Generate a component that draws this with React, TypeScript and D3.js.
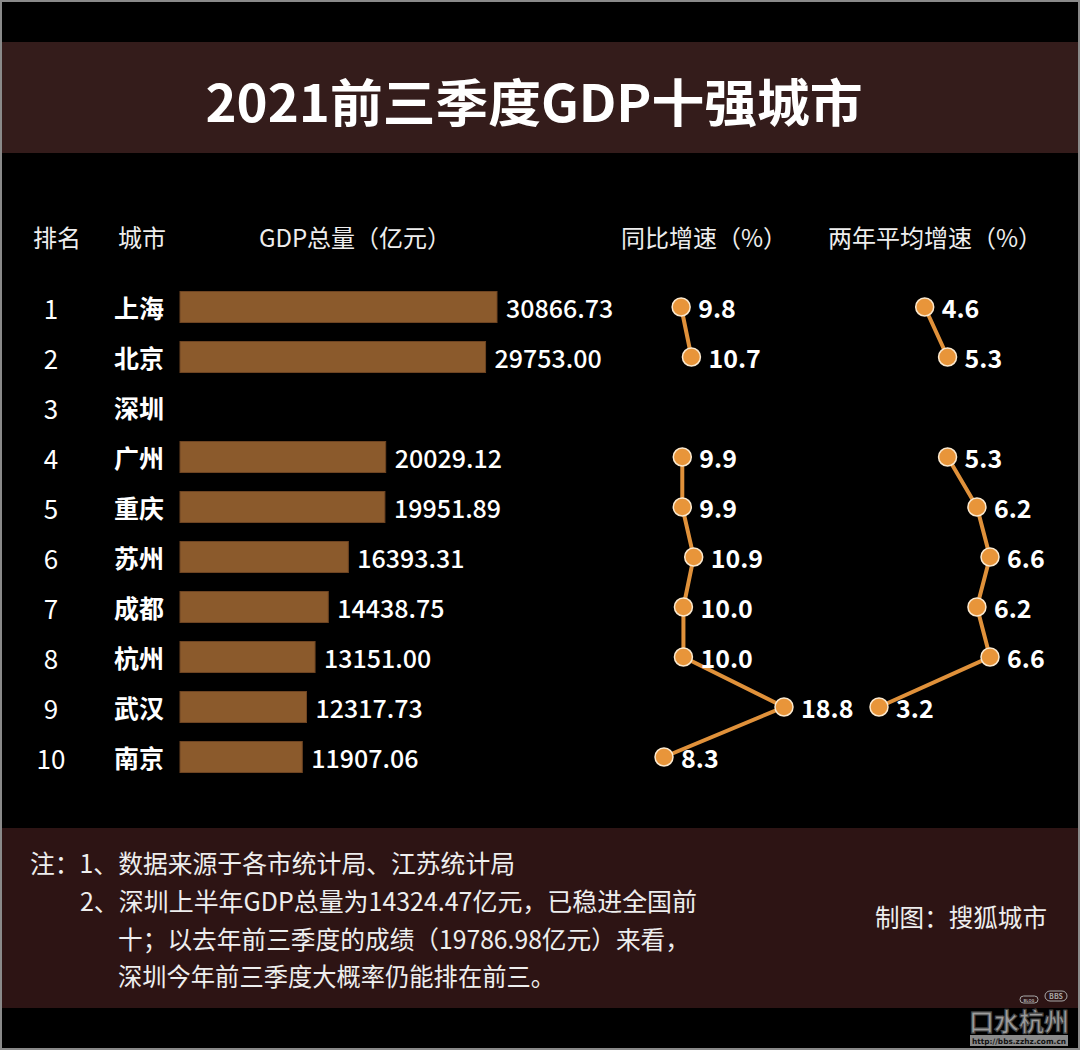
import React from 'react';
import * as d3 from 'd3';

const W = 1080;
const H = 1050;

const TITLE = '2021前三季度GDP十强城市';
const HEADERS = ['排名', '城市', 'GDP总量（亿元）', '同比增速（%）', '两年平均增速（%）'];
const ranks = [1, 2, 3, 4, 5, 6, 7, 8, 9, 10];
const cities = ['上海', '北京', '深圳', '广州', '重庆', '苏州', '成都', '杭州', '武汉', '南京'];
const gdp: (number | null)[] = [30866.73, 29753.0, null, 20029.12, 19951.89, 16393.31, 14438.75, 13151.0, 12317.73, 11907.06];
const yoy: (number | null)[] = [9.8, 10.7, null, 9.9, 9.9, 10.9, 10.0, 10.0, 18.8, 8.3];
const twoYear: (number | null)[] = [4.6, 5.3, null, 5.3, 6.2, 6.6, 6.2, 6.6, 3.2, null];
const notes = [
  '注：1、数据来源于各市统计局、江苏统计局',
  '2、深圳上半年GDP总量为14324.47亿元，已稳进全国前',
  '十；以去年前三季度的成绩（19786.98亿元）来看，',
  '深圳今年前三季度大概率仍能排在前三。',
];
const credit = '制图：搜狐城市';

const FONT = '"Noto Sans CJK SC", "Noto Sans", sans-serif';
const ORANGE = '#e8953a';
const LINE = '#e0913a';

export default function App() {
  const y = d3.scalePoint<string>().domain(cities).range([307, 757]);
  const xGdp = d3.scaleLinear().domain([0, 30866.73]).range([180, 497]);
  const xYoy = d3.scaleLinear().domain([8.3, 18.8]).range([664, 784]);
  const xTwo = d3.scaleLinear().domain([3.2, 6.6]).range([879, 990]);

  const idx = cities.map((_, i) => i);
  const lineYoy = d3
    .line<number>()
    .defined((i) => yoy[i] != null)
    .x((i) => xYoy(yoy[i] as number))
    .y((i) => y(cities[i]) as number);
  const lineTwo = d3
    .line<number>()
    .defined((i) => twoYear[i] != null)
    .x((i) => xTwo(twoYear[i] as number))
    .y((i) => y(cities[i]) as number);

  const headerX = [57, 142, 355, 704, 935];
  const noteLayout = [
    { x: 30, y: 862, w: 485 },
    { x: 80, y: 900, w: 617 },
    { x: 118, y: 938, w: 572 },
    { x: 118, y: 975, w: 437 },
  ];

  const series = [
    { vals: yoy, sx: xYoy, path: lineYoy(idx) },
    { vals: twoYear, sx: xTwo, path: lineTwo(idx) },
  ];

  return (
    <svg
      width={W}
      height={H}
      style={{ position: 'absolute', left: 0, top: 0, display: 'block' }}
      fontFamily={FONT}
    >
      <rect x={0} y={0} width={W} height={H} fill="#000" />
      <rect x={0} y={42} width={W} height={111} fill="#341c1b" />
      <rect x={0} y={828} width={W} height={180} fill="#2d1414" />
      <rect x={1} y={1} width={W - 2} height={H - 2} fill="none" stroke="#8a8a8a" strokeWidth={2} />

      <text
        x={534}
        y={100}
        textAnchor="middle"
        dominantBaseline="central"
        fill="#fff"
        fontSize={51}
        fontWeight={700}
        textLength={657}
        lengthAdjust="spacingAndGlyphs"
      >
        {TITLE}
      </text>

      {HEADERS.map((h, i) => (
        <text key={h} x={headerX[i]} y={236} textAnchor="middle" dominantBaseline="central" fill="#eee" fontSize={24}>
          {h}
        </text>
      ))}

      {cities.map((c, i) => {
        const cy = y(c) as number;
        const v = gdp[i];
        return (
          <g key={c}>
            <text x={51} y={cy} textAnchor="middle" dominantBaseline="central" fill="#fff" fontSize={26}>
              {ranks[i]}
            </text>
            <text x={114} y={cy} dominantBaseline="central" fill="#fff" fontSize={25} fontWeight={700}>
              {c}
            </text>
            {v != null && (
              <>
                <rect
                  x={xGdp(0)}
                  y={cy - 15.5}
                  width={xGdp(v) - xGdp(0)}
                  height={31}
                  fill="#8b5a2c"
                  stroke="#6e4422"
                  strokeWidth={1}
                />
                <text x={xGdp(v) + 9} y={cy} dominantBaseline="central" fill="#fff" fontSize={25} fontWeight={500}>
                  {v.toFixed(2)}
                </text>
              </>
            )}
          </g>
        );
      })}

      {series.map((s, si) => (
        <g key={si}>
          <path d={s.path || ''} fill="none" stroke={LINE} strokeWidth={4} />
          {s.vals.map((v, i) =>
            v == null ? null : (
              <g key={i}>
                <circle cx={s.sx(v)} cy={y(cities[i]) as number} r={9} fill={ORANGE} stroke="#fbe9cf" strokeWidth={1.5} />
                <text
                  x={s.sx(v) + 17}
                  y={y(cities[i]) as number}
                  dominantBaseline="central"
                  fill="#fff"
                  fontSize={25}
                  fontWeight={700}
                >
                  {v.toFixed(1)}
                </text>
              </g>
            )
          )}
        </g>
      ))}

      {notes.map((n, i) => (
        <text
          key={i}
          x={noteLayout[i].x}
          y={noteLayout[i].y}
          dominantBaseline="central"
          fill="#eee"
          fontSize={25}
          textLength={noteLayout[i].w}
          lengthAdjust="spacingAndGlyphs"
        >
          {n}
        </text>
      ))}
      <text
        x={875}
        y={916}
        dominantBaseline="central"
        fill="#eee"
        fontSize={25}
        textLength={172}
        lengthAdjust="spacingAndGlyphs"
      >
        {credit}
      </text>

      <g>
        <rect x={1020} y={996} width={18} height={7} rx={3.5} fill="none" stroke="#aaa" strokeWidth={1} />
        <text x={1029} y={999.5} textAnchor="middle" dominantBaseline="central" fill="#aaa" fontSize={4} fontWeight={700}>
          BLOG
        </text>
        <rect x={1045} y={991} width={22} height={10} rx={5} fill="none" stroke="#aaa" strokeWidth={1} />
        <text x={1056} y={996} textAnchor="middle" dominantBaseline="central" fill="#aaa" fontSize={7} fontWeight={700}>
          BBS
        </text>
        <text
          x={1019}
          y={1020}
          textAnchor="middle"
          dominantBaseline="central"
          fill="#9c9c9c"
          stroke="#444"
          strokeWidth={1}
          fontSize={22}
          fontWeight={700}
          textLength={100}
          lengthAdjust="spacingAndGlyphs"
          transform="translate(0,1020) scale(1,1.15) translate(0,-1020)"
        >
          口水杭州
        </text>
        <rect x={970} y={1035} width={98} height={11} fill="#8a8a8a" />
        <text
          x={1019}
          y={1041}
          textAnchor="middle"
          dominantBaseline="central"
          fill="#111"
          fontSize={7.5}
          fontWeight={700}
          fontFamily="DejaVu Sans, sans-serif"
          textLength={94}
          lengthAdjust="spacingAndGlyphs"
        >
          http://bbs.zzhz.com.cn
        </text>
      </g>
    </svg>
  );
}
